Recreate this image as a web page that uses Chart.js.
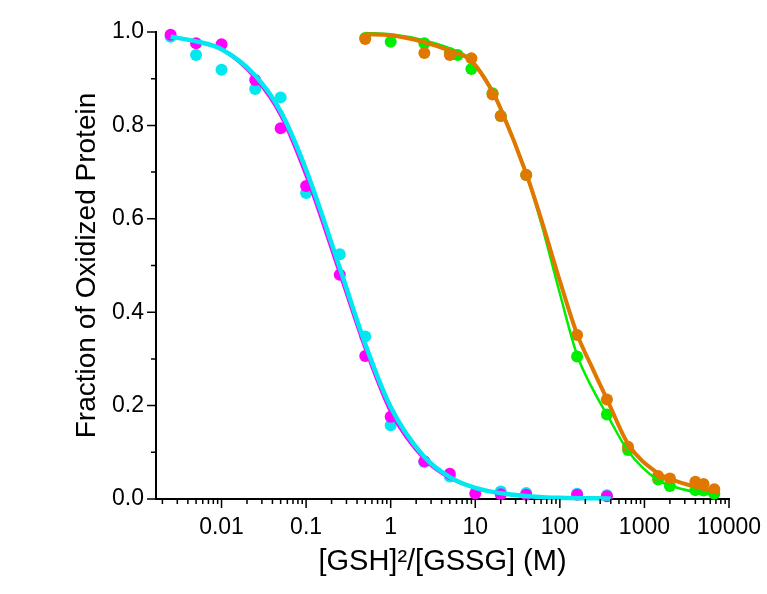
<!DOCTYPE html>
<html>
<head>
<meta charset="utf-8">
<script src="https://cdn.jsdelivr.net/npm/chart.js@4.4.1/dist/chart.umd.min.js"></script>
<style>
  html, body { margin: 0; padding: 0; background: #fff; }
  #wrap { width: 767px; height: 594px; }
</style>
</head>
<body>
<div id="wrap"><canvas id="redox"></canvas></div>
<script>
//------------------------------- DATA -------------------------------

// measured points
const magentaX = [0.0025, 0.005, 0.01, 0.025, 0.05, 0.1, 0.25, 0.5, 1, 2.5, 5, 10, 20, 40, 160, 360];
const magentaY = [0.994, 0.976, 0.974, 0.897, 0.794, 0.670, 0.480, 0.306, 0.176, 0.081, 0.054, 0.012, 0.010, 0.009, 0.009, 0.006];

const cyanX = [0.0025, 0.005, 0.01, 0.025, 0.05, 0.1, 0.25, 0.5, 1, 2.5, 5, 20, 40, 160, 360];
const cyanY = [0.990, 0.951, 0.919, 0.878, 0.860, 0.655, 0.524, 0.348, 0.158, 0.079, 0.048, 0.016, 0.013, 0.011, 0.008];

const greenX = [0.5, 1, 2.5, 5, 6.2, 9, 16, 20, 40, 160, 360, 640, 1450, 2000, 4000, 5000, 6700];
const greenY = [0.987, 0.979, 0.976, 0.955, 0.951, 0.921, 0.869, 0.820, 0.694, 0.305, 0.181, 0.105, 0.042, 0.028, 0.019, 0.018, 0.011];

const orangeX = [0.5, 2.5, 5, 9, 16, 20, 40, 160, 360, 640, 1450, 2000, 4000, 5000, 6700];
const orangeY = [0.985, 0.955, 0.951, 0.944, 0.866, 0.820, 0.694, 0.351, 0.213, 0.112, 0.049, 0.044, 0.037, 0.032, 0.021];

// fitted curves
const leftFitX = [0.0025, 0.005, 0.01, 0.025, 0.05, 0.1, 0.25, 0.5, 1, 2.5, 5, 10, 25, 50, 100, 400];
const magentaFit = [0.990, 0.979, 0.962, 0.900, 0.820, 0.690, 0.480, 0.320, 0.185, 0.084, 0.044, 0.023, 0.009, 0.005, 0.002, 0.001];
const cyanFit = [0.990, 0.980, 0.963, 0.907, 0.830, 0.705, 0.495, 0.332, 0.197, 0.090, 0.047, 0.024, 0.010, 0.005, 0.0025, 0.001];

const rightFitX = [0.5, 1, 2.5, 5, 9, 16, 20, 40, 60, 100, 160, 250, 360, 640, 1450, 2000, 4000, 7000];
const orangeFit = [0.995, 0.993, 0.978, 0.960, 0.938, 0.872, 0.835, 0.697, 0.600, 0.467, 0.353, 0.275, 0.214, 0.118, 0.055, 0.043, 0.026, 0.016];
const greenFit = [0.998, 0.995, 0.982, 0.965, 0.940, 0.875, 0.838, 0.697, 0.592, 0.440, 0.308, 0.232, 0.181, 0.103, 0.040, 0.029, 0.015, 0.008];

// axis ticks
const xMajorTicks = [0.01, 0.1, 1, 10, 100, 1000, 10000];
const xTickLabels = ['0.01', '0.1', '1', '10', '100', '1000', '10000'];
const xMin = 0.00168;
const xMax = 10000;

//------------------------------- HELPERS -------------------------------

function pts(xs, ys) {
    return xs.map((x, i) => ({ x: x, y: ys[i] }));
}

// minor ticks 2..9 in each decade, plus the majors
function logTicks() {
    const out = [];
    for (let e = -3; e <= 3; e++) {
        for (let d = 1; d <= 9; d++) {
            const v = +(d * Math.pow(10, e)).toPrecision(6);
            if (v >= xMin && v <= xMax) out.push(v);
        }
    }
    out.push(xMax);
    return out;
}

function isXMajor(v) {
    return xMajorTicks.some(m => Math.abs(m - v) / m < 1e-6);
}

// draws outward tick marks, long on majors and short on minors
const tickMarks = {
    id: 'tickMarks',
    afterDraw(chart) {
        const ctx = chart.ctx;
        const xs = chart.scales.x;
        const ys = chart.scales.y;
        ctx.save();
        ctx.strokeStyle = '#000';
        ctx.lineWidth = 1.5;
        ctx.beginPath();
        xs.ticks.forEach(t => {
            const px = xs.getPixelForValue(t.value);
            const len = isXMajor(t.value) ? 9 : 5;
            ctx.moveTo(px, xs.top);
            ctx.lineTo(px, xs.top + len);
        });
        ys.ticks.forEach(t => {
            const py = ys.getPixelForValue(t.value);
            const len = Math.round(t.value * 10) % 2 === 0 ? 9 : 5;
            ctx.moveTo(ys.right, py);
            ctx.lineTo(ys.right - len, py);
        });
        ctx.stroke();
        ctx.restore();
    }
};

//------------------------------- CHART -------------------------------

const C_MAGENTA = '#ff00ff';
const C_CYAN = '#00e8f0';
const C_GREEN = '#00ee00';
const C_ORANGE = '#e07800';

function scatterSet(data, color, order) {
    return {
        data: data,
        showLine: false,
        pointRadius: 6,
        pointBackgroundColor: color,
        pointBorderColor: color,
        pointBorderWidth: 0,
        order: order,
        clip: false
    };
}

function curveSet(data, color, width, order) {
    return {
        data: data,
        showLine: true,
        borderColor: color,
        borderWidth: width,
        pointRadius: 0,
        cubicInterpolationMode: 'monotone',
        fill: false,
        order: order,
        clip: false
    };
}

const ctx = document.getElementById('redox').getContext('2d');
const redoxChart = new Chart(ctx, {
    type: 'scatter',
    data: {
        datasets: [
            curveSet(pts(rightFitX, orangeFit), C_ORANGE, 4, 1),
            curveSet(pts(rightFitX, greenFit), C_GREEN, 2.5, 2),
            curveSet(pts(leftFitX, cyanFit), C_CYAN, 4.5, 3),
            curveSet(pts(leftFitX, magentaFit), C_MAGENTA, 2.5, 4),
            scatterSet(pts(orangeX, orangeY), C_ORANGE, 5),
            scatterSet(pts(greenX, greenY), C_GREEN, 6),
            scatterSet(pts(magentaX, magentaY), C_MAGENTA, 7),
            scatterSet(pts(cyanX, cyanY), C_CYAN, 8)
        ]
    },
    options: {
        responsive: true,
        maintainAspectRatio: false,
        animation: false,
        layout: { padding: { top: 32, right: 37.5, left: 0, bottom: 0 } },
        plugins: {
            legend: { display: false },
            tooltip: { enabled: false }
        },
        scales: {
            x: {
                type: 'logarithmic',
                min: xMin,
                max: xMax,
                afterBuildTicks: (scale) => {
                    scale.ticks = logTicks().map(v => ({ value: v, major: isXMajor(v) }));
                },
                afterFit: (scale) => { scale.height = 95; },
                grid: { display: false, drawTicks: true, tickLength: 9 },
                border: { display: true, color: '#000', width: 2 },
                ticks: {
                    autoSkip: false,
                    maxRotation: 0,
                    padding: 6,
                    color: '#000',
                    font: { family: 'Liberation Sans', size: 23 },
                    callback: (v) => {
                        const i = xMajorTicks.findIndex(m => Math.abs(m - v) / m < 1e-6);
                        return i >= 0 ? xTickLabels[i] : '';
                    }
                },
                title: {
                    display: true,
                    text: '[GSH]²/[GSSG] (M)',
                    color: '#000',
                    font: { family: 'Liberation Sans', size: 29 },
                    padding: { top: 0, bottom: 15 }
                }
            },
            y: {
                min: 0,
                max: 1.0,
                afterFit: (scale) => { scale.width = 156; },
                grid: { display: false, drawTicks: true, tickLength: 9 },
                border: { display: true, color: '#000', width: 2 },
                ticks: {
                    stepSize: 0.1,
                    autoSkip: false,
                    padding: 3,
                    color: '#000',
                    font: { family: 'Liberation Sans', size: 23 },
                    callback: (v) => Math.round(v * 10) % 2 === 0 ? v.toFixed(1) : ''
                },
                title: {
                    display: true,
                    text: 'Fraction of Oxidized Protein',
                    color: '#000',
                    font: { family: 'Liberation Sans', size: 28 },
                    padding: { top: 70, bottom: 0 }
                }
            }
        }
    },
    plugins: [tickMarks]
});
</script>
</body>
</html>
